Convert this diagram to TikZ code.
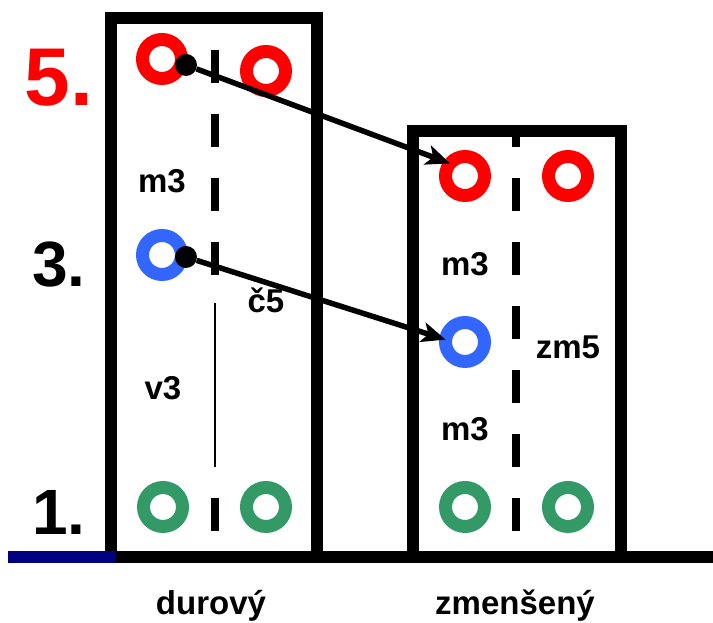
\documentclass[tikz,border=0pt]{standalone}
\usepackage{fontspec}
\setmainfont{Liberation Sans}
\usetikzlibrary{arrows.meta}
\definecolor{tonered}{RGB}{255,0,0}
\definecolor{toneblue}{RGB}{51,102,255}
\definecolor{tonegreen}{RGB}{51,153,102}
\definecolor{groundblue}{RGB}{0,0,128}

\begin{document}
\begin{tikzpicture}[x=1pt,y=1pt,
		ring/.style={circle,draw=#1,line width=13pt,minimum size=39pt,inner sep=0pt,outer sep=0pt},
		knob/.style={circle,fill=black,minimum size=22pt,inner sep=0pt},
		lbl/.style={font=\fontsize{33}{33}\selectfont\bfseries},
		deg/.style={font=\fontsize{64}{64}\selectfont\bfseries},
		arr/.style={line width=5.5pt,-{Stealth[length=24pt,width=20pt,inset=6pt]}},
		axis/.style={line width=8pt,dash pattern=on 33pt off 31pt}]
		\useasboundingbox (0,0) rectangle (713,623);
		
		% middle lines
		\draw[axis] (215,573) -- (215,347);
		\draw[axis] (215,125) -- (215,92);
		\draw[line width=1.6pt] (215,320) -- (215,156);
		\draw[axis,dash phase=11pt] (516,498) -- (516,92);
		
		% boxes and ground
		\draw[line width=12pt] (111,66) -- (111,605) -- (317,605) -- (317,66);
		\draw[line width=12pt] (413,66) -- (413,492) -- (621,492) -- (621,66);
		\draw[groundblue,line width=12pt] (8,66) -- (116,66);
		\draw[line width=12pt] (116,66) -- (713,66);
		
		% durovy
		\node[ring=tonered] (r5a) at (162,564) {};
		\node[ring=tonered] (r5b) at (266,552) {};
		\node[ring=toneblue] (r3a) at (162,368) {};
		\node[ring=tonegreen] (r1a) at (163,116) {};
		\node[ring=tonegreen] (r1b) at (266,116) {};
		
		% zmenseny
		\node[ring=tonered] (r5c) at (465,447) {};
		\node[ring=tonered] (r5d) at (568,447) {};
		\node[ring=toneblue] (r3b) at (465,281) {};
		\node[ring=tonegreen] (r1c) at (465,116) {};
		\node[ring=tonegreen] (r1d) at (568,116) {};
		
		\node[knob] (k5) at (186,558) {};
		\node[knob] (k3) at (186,366) {};
		\draw[arr] (k5) -- (r5c.140);
		\draw[arr] (k3) -- (r3b.173);
		
		\node[deg,tonered,font=\fontsize{82}{82}\selectfont\bfseries] (n5) at (59,545) {5.};
		\node[deg] (n3) at (59,358) {3.};
		\node[deg] (n1) at (59,111) {1.};
		
		\node[lbl] (m3a) at (162,442) {m3};
		\node[lbl] (c5) at (266,323) {č5};
		\node[lbl] (v3) at (163,235) {v3};
		\node[lbl] (m3b) at (465,359) {m3};
		\node[lbl] (zm5) at (568,276) {zm5};
		\node[lbl] (m3c) at (465,194) {m3};
		
		\node[lbl,anchor=base] (dur) at (211,8) {durový};
		\node[lbl,anchor=base] (zmen) at (515,8) {zmenšený};
	\end{tikzpicture}
\end{document}
